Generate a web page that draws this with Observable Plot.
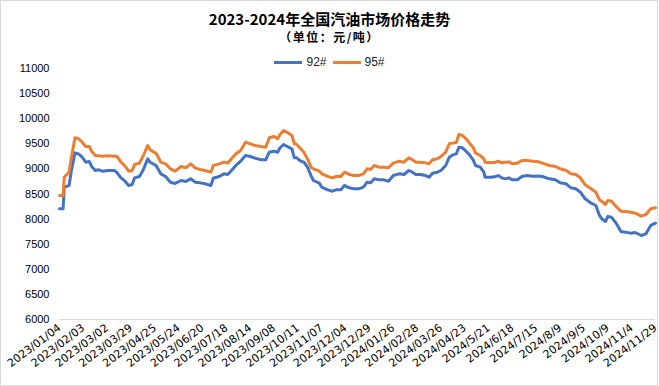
<!DOCTYPE html>
<html><head><meta charset="utf-8">
<script src="https://cdn.jsdelivr.net/npm/d3@7"></script>
<script src="https://cdn.jsdelivr.net/npm/@observablehq/plot@0.6"></script>
<style>
body{margin:0;background:#fff}
#wrap{position:relative;width:659px;height:386px;overflow:hidden;background:#fff}
#frame{position:absolute;left:0;top:0;width:658px;height:386px;border:1px solid #d9d9d9;box-sizing:border-box;pointer-events:none}
#title{position:absolute;top:10px;left:0;width:659px;text-align:center;font:bold 15px/18px "Noto Sans CJK SC",sans-serif;color:#000}
#subtitle{position:absolute;top:30px;left:0;width:659px;text-align:center;font:bold 12px/14px "Noto Sans CJK SC",sans-serif;letter-spacing:1.5px;color:#000}
#legend{position:absolute;top:55px;left:0;width:659px;display:flex;justify-content:center;align-items:center;font:12px/14px "Liberation Sans",sans-serif;color:#222}
#legend .sw{display:inline-block;width:28px;height:3px;margin:0 4px 0 0}
#legend .it{display:flex;align-items:center;margin:0 3px}
#chart{position:absolute;left:0;top:0}
</style></head>
<body>
<div id="wrap">
  <div id="chart"></div>
  <div id="title">2023-2024年全国汽油市场价格走势</div>
  <div id="subtitle">（单位：元/吨）</div>
  <div id="legend"></div>
  <div id="frame"></div>
</div>
<script>
const dateLabels = ["2023/01/04","2023/02/03","2023/03/02","2023/03/29","2023/04/25","2023/05/24","2023/06/20","2023/07/18","2023/08/14","2023/09/08","2023/10/11","2023/11/07","2023/12/04","2023/12/29","2024/01/26","2024/02/28","2024/03/26","2024/04/23","2024/5/21","2024/6/18","2024/7/15","2024/8/9","2024/9/5","2024/10/9","2024/11/4","2024/11/29"];
const labelStep = 20;
const seriesNames = ["92#","95#"];
const seriesColors = ["#4472C4","#ED7D31"];
const yTicks = [6000,6500,7000,7500,8000,8500,9000,9500,10000,10500,11000];

// position of each sampled trading day in the category sequence
const dayIndex = [0,2,3,4,8,10,13,16,19,22,25,27,30,33,36,41,46,48,51,55,58,61,63,67,70,74,76,81,85,89,93,97,102,106,110,114,118,122,127,129,134,138,141,143,148,152,156,160,164,169,173,176,180,183,185,188,192,195,197,199,202,205,208,211,213,218,220,225,229,232,236,239,243,247,251,255,258,261,264,268,272,276,280,285,289,293,296,299,303,307,310,313,317,320,324,327,330,333,335,338,341,344,347,349,353,356,357,362,366,368,371,374,377,380,384,388,392,397,401,405,411,416,420,425,429,433,437,441,446,450,453,455,458,460,463,467,471,475,479,483,488,492,496,500];

const price92 = [8205,8205,8205,8630,8670,8968,9320,9300,9233,9133,9147,9048,8968,8982,8954,8968,8968,8934,8835,8755,8670,8690,8822,8849,8968,9201,9133,9068,8902,8849,8735,8710,8769,8749,8802,8735,8722,8703,8670,8815,8849,8902,8889,8934,9068,9154,9267,9247,9214,9181,9181,9333,9353,9333,9420,9486,9433,9400,9221,9221,9160,9134,9034,8868,8769,8716,8636,8583,8556,8583,8583,8670,8623,8603,8603,8636,8735,8722,8802,8782,8782,8755,8868,8902,8889,8968,8935,8889,8889,8868,8835,8915,8935,8968,9068,9233,9280,9300,9433,9420,9353,9280,9181,9068,9034,8935,8835,8835,8849,8868,8822,8802,8822,8782,8782,8849,8868,8855,8860,8849,8802,8782,8722,8703,8623,8603,8536,8404,8317,8271,8072,8006,7952,8052,8038,7918,7753,7740,7720,7733,7673,7707,7873,7918];

const price95 = [8470,8470,8470,8835,8934,9233,9620,9600,9532,9446,9446,9353,9267,9260,9254,9260,9254,9254,9154,9054,8955,8968,9090,9114,9247,9466,9380,9313,9134,9101,9002,8955,9048,9022,9101,9015,8988,8968,8935,9068,9101,9134,9114,9167,9300,9366,9532,9500,9466,9446,9433,9620,9646,9600,9686,9765,9712,9666,9500,9486,9410,9333,9200,9034,9000,8955,8902,8849,8822,8849,8849,8935,8889,8868,8868,8902,9002,8988,9068,9034,9034,9022,9114,9154,9134,9221,9181,9134,9134,9120,9101,9181,9201,9247,9333,9500,9513,9532,9686,9666,9600,9513,9433,9313,9267,9201,9134,9121,9134,9154,9121,9134,9140,9101,9114,9167,9167,9154,9147,9114,9068,9048,9002,8968,8902,8889,8822,8683,8603,8536,8384,8351,8291,8371,8357,8251,8158,8151,8138,8118,8058,8092,8205,8225];

const rows = [];
dayIndex.forEach((d,i)=>{
  rows.push({day:d, price:price92[i], s:seriesNames[0]});
  rows.push({day:d, price:price95[i], s:seriesNames[1]});
});
const tickPos = dateLabels.map((_,i)=>i*labelStep);

const chart = Plot.plot({
  width:659, height:386,
  marginLeft:59, marginRight:4, marginTop:68, marginBottom:67,
  style:{fontFamily:"'Liberation Sans',sans-serif", fontSize:"11px", color:"#000", background:"transparent"},
  x:{domain:[0,500]},
  y:{domain:[6000,11000]},
  color:{domain:seriesNames, range:seriesColors},
  marks:[
    Plot.ruleY([6000],{stroke:"#d9d9d9", strokeWidth:1}),
    Plot.axisY({ticks:yTicks, tickSize:0, tickPadding:10, fontSize:11, tickFormat:(d)=>String(d), label:null}),
    Plot.axisX({ticks:tickPos, tickSize:0, tickPadding:7, tickRotate:-37, tickFormat:(d)=>dateLabels[d/labelStep], fontFamily:"'DejaVu Sans',sans-serif", fontSize:11, label:null}),
    Plot.line(rows,{x:"day", y:"price", z:"s", stroke:"s", strokeWidth:3, strokeLinejoin:"round", strokeLinecap:"round"})
  ]
});
document.getElementById("chart").appendChild(chart);

const lg = document.getElementById("legend");
seriesNames.forEach((n,i)=>{
  const it = document.createElement("span"); it.className="it";
  const sw = document.createElement("span"); sw.className="sw"; sw.style.background=seriesColors[i];
  const t = document.createElement("span"); t.textContent=n;
  it.appendChild(sw); it.appendChild(t); lg.appendChild(it);
});
</script>
</body></html>
